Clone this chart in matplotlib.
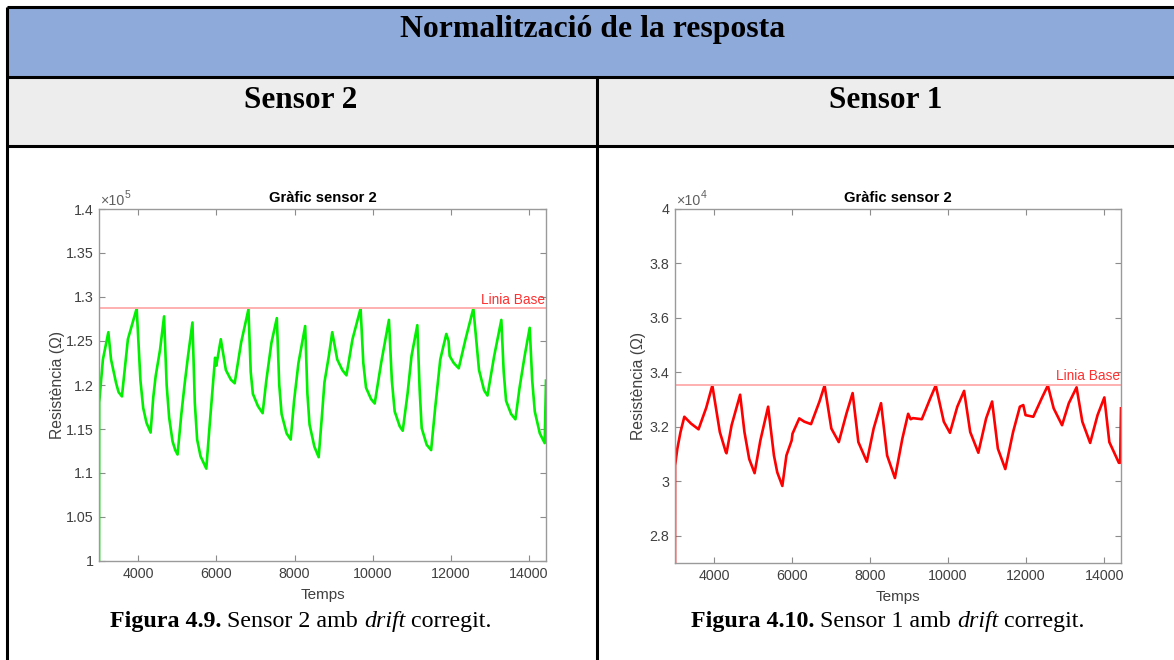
import numpy as np
import matplotlib.pyplot as plt
from matplotlib.patches import Rectangle

# DATA
s2_t = [3000, 3005, 3100, 3239, 3308, 3438, 3500, 3586, 3739, 3964,
        4060, 4130, 4215, 4319, 4388, 4449, 4561, 4664,
        4730, 4794, 4881, 4950, 5009, 5106, 5190, 5277, 5390,
        5450, 5510, 5597, 5744, 5831, 5900, 5969, 6000, 6115,
        6245, 6373, 6470, 6634, 6822,
        6880, 6935, 7065, 7185, 7279, 7410, 7548,
        7610, 7670, 7798, 7902, 7989, 8101, 8273,
        8330, 8385, 8508, 8618, 8705, 8766, 8878, 8965,
        9093, 9223, 9328, 9483, 9690,
        9760, 9829, 9958, 10051, 10216, 10415,
        10490, 10562, 10691, 10768, 10891, 10993, 11141,
        11200, 11253, 11381, 11494, 11598, 11728, 11882,
        11940, 11968, 12073, 12200, 12374, 12574,
        12719, 12849, 12935, 13107, 13290,
        13350, 13411, 13540, 13650, 13756, 13886, 14015,
        14080, 14145, 14274, 14398, 14432]
s2_r = [0.99, 1.180, 1.229, 1.260, 1.229, 1.202, 1.192, 1.187, 1.252, 1.287,
        1.205, 1.174, 1.157, 1.146, 1.186, 1.210, 1.240, 1.278,
        1.200, 1.163, 1.136, 1.126, 1.121, 1.167, 1.201, 1.233, 1.271,
        1.180, 1.138, 1.119, 1.105, 1.155, 1.193, 1.231, 1.222, 1.252,
        1.217, 1.206, 1.202, 1.248, 1.286,
        1.215, 1.190, 1.176, 1.168, 1.205, 1.248, 1.276,
        1.200, 1.167, 1.145, 1.138, 1.182, 1.225, 1.267,
        1.190, 1.155, 1.130, 1.118, 1.167, 1.203, 1.233, 1.260,
        1.229, 1.217, 1.211, 1.252, 1.287,
        1.225, 1.197, 1.184, 1.179, 1.225, 1.274,
        1.205, 1.170, 1.153, 1.148, 1.190, 1.233, 1.268,
        1.195, 1.151, 1.132, 1.126, 1.174, 1.229, 1.258,
        1.250, 1.233, 1.225, 1.219, 1.252, 1.287,
        1.217, 1.194, 1.188, 1.233, 1.274,
        1.215, 1.182, 1.167, 1.161, 1.197, 1.233, 1.265,
        1.205, 1.170, 1.145, 1.134, 1.205]

s1_t = [3000, 3002, 3060, 3140, 3239, 3411, 3603, 3800, 3957,
        4149, 4303, 4320, 4451, 4669,
        4780, 4902, 5040, 5188, 5387,
        5536, 5621, 5751, 5856, 5990, 6012, 6185, 6315, 6487, 6703, 6834,
        7007, 7198, 7397, 7553,
        7700, 7917, 8092, 8281,
        8437, 8637, 8828, 8976, 9040, 9100, 9327, 9544, 9683,
        9890, 10047, 10236, 10410,
        10567, 10775, 10975, 11128,
        11276, 11466, 11666, 11840, 11927, 11985, 12184, 12400, 12557,
        12706, 12921, 13095, 13293,
        13441, 13641, 13831, 14005,
        14133, 14377, 14410, 14432]
s1_r = [2.65, 3.058, 3.120, 3.180, 3.237, 3.212, 3.191, 3.270, 3.352,
        3.181, 3.107, 3.103, 3.206, 3.318,
        3.181, 3.082, 3.030, 3.150, 3.274,
        3.095, 3.033, 2.983, 3.095, 3.150, 3.175, 3.231, 3.219, 3.210, 3.293, 3.352,
        3.194, 3.144, 3.250, 3.324,
        3.144, 3.072, 3.194, 3.287,
        3.095, 3.012, 3.157, 3.248, 3.228, 3.232, 3.228, 3.305, 3.352,
        3.219, 3.178, 3.274, 3.332,
        3.181, 3.105, 3.231, 3.293,
        3.120, 3.045, 3.181, 3.274, 3.280, 3.243, 3.237, 3.305, 3.352,
        3.268, 3.206, 3.287, 3.345,
        3.219, 3.141, 3.243, 3.308,
        3.144, 3.068, 3.068, 3.268]

s2_base = 1.2874   # x1e5
s1_base = 3.355    # x1e4

# FIGURE
W, H = 1174, 660
fig = plt.figure(figsize=(W / 100, H / 100), dpi=100)
renderer = fig.canvas.get_renderer()
serif = 'Liberation Serif'
sans = 'Liberation Sans'

# TABLE (pixel coords, y down)
tbl = fig.add_axes([0, 0, 1, 1])
tbl.set_xlim(0, W)
tbl.set_ylim(H, 0)
tbl.axis('off')
tbl.add_patch(Rectangle((7, 7), W, 70, color='#8eaadb', lw=0))
tbl.add_patch(Rectangle((7, 77), W, 69, color='#ededed', lw=0))
for y in (7, 77, 146):
    tbl.plot([7, W], [y, y], color='black', lw=2.2, solid_capstyle='butt')
tbl.plot([7, 7], [7, H], color='black', lw=2.2, solid_capstyle='butt')
tbl.plot([597, 597], [77, H], color='black', lw=2.2, solid_capstyle='butt')

tbl.text(593, 30, 'Normalització de la resposta', ha='center', va='center',
         family=serif, weight='bold', fontsize=22.9)
tbl.text(301, 101, 'Sensor 2', ha='center', va='center',
         family=serif, weight='bold', fontsize=22.5)
tbl.text(886, 101, 'Sensor 1', ha='center', va='center',
         family=serif, weight='bold', fontsize=22.5)


def caption(x, y, parts):
    # parts: (text, weight, style), laid out left to right on one baseline
    for s, wt, st in parts:
        t = tbl.text(x, y, s, ha='left', va='baseline', family=serif,
                     weight=wt, style=st, fontsize=17.3)
        x += t.get_window_extent(renderer).width


caption(110, 627, [('Figura 4.9.', 'bold', 'normal'),
                   (' Sensor 2 amb ', 'normal', 'normal'),
                   ('drift', 'normal', 'italic'),
                   (' corregit.', 'normal', 'normal')])
caption(691, 627, [('Figura 4.10.', 'bold', 'normal'),
                   (' Sensor 1 amb ', 'normal', 'normal'),
                   ('drift', 'normal', 'italic'),
                   (' corregit.', 'normal', 'normal')])


def px_axes(left, top, right, bottom):
    return fig.add_axes([left / W, 1 - bottom / H,
                         (right - left) / W, (bottom - top) / H])


def sensor_plot(ax, t, r, color, base, ylim, yticks, exp, ytl, ylab_x):
    ax.plot(t, r, color=color, lw=1.9)
    ax.axhline(base, color='#ffb0b0', lw=1.4)
    ax.text(0.997, base + (ylim[1] - ylim[0]) * 0.004, 'Linia Base',
            transform=ax.get_yaxis_transform(), ha='right', va='bottom',
            color='#ff3030', family=sans, fontsize=9.8)
    ax.set_xlim(3000, 14432)
    ax.set_ylim(*ylim)
    ax.set_xticks([4000, 6000, 8000, 10000, 12000, 14000])
    ax.set_yticks(yticks)
    ax.set_yticklabels(ytl)
    ax.tick_params(direction='in', top=True, right=True, length=4,
                   width=0.8, colors='#8c8c8c', labelcolor='#404040',
                   labelsize=10.3, pad=4)
    for lab in ax.get_xticklabels() + ax.get_yticklabels():
        lab.set_family(sans)
    for sp in ax.spines.values():
        sp.set_color('#9a9a9a')
        sp.set_linewidth(1.0)
    ax.set_title('Gràfic sensor 2', family=sans, weight='bold', fontsize=10.6,
                 pad=5)
    ax.set_xlabel('Temps', family=sans, fontsize=11, color='#404040')
    ax.xaxis.set_label_coords(0.5, -0.076)
    ax.set_ylabel('Resistència (Ω)', family=sans, fontsize=11.3,
                  color='#404040')
    ax.yaxis.set_label_coords(ylab_x, 0.5)
    # MATLAB style exponent label
    t10 = ax.text(0.003, 1.004, '×10', transform=ax.transAxes,
                  ha='left', va='bottom', family=sans, fontsize=10.3,
                  color='#606060')
    ax.annotate(str(exp), xycoords=t10, xy=(1, 0.55), va='bottom',
                ha='left', family=sans, fontsize=7.5, color='#606060')


ax1 = px_axes(99, 209, 546, 561)
sensor_plot(ax1, s2_t, s2_r, '#00f000', s2_base, (1.0, 1.4),
            [1, 1.05, 1.1, 1.15, 1.2, 1.25, 1.3, 1.35, 1.4], 5,
            ['1', '1.05', '1.1', '1.15', '1.2', '1.25', '1.3', '1.35', '1.4'],
            -0.076)

ax2 = px_axes(675, 209, 1121, 563)
sensor_plot(ax2, s1_t, s1_r, '#ff0000', s1_base, (2.7, 4.0),
            [2.8, 3.0, 3.2, 3.4, 3.6, 3.8, 4.0], 4,
            ['2.8', '3', '3.2', '3.4', '3.6', '3.8', '4'],
            -0.064)

fig.savefig('out.png', dpi=100)
